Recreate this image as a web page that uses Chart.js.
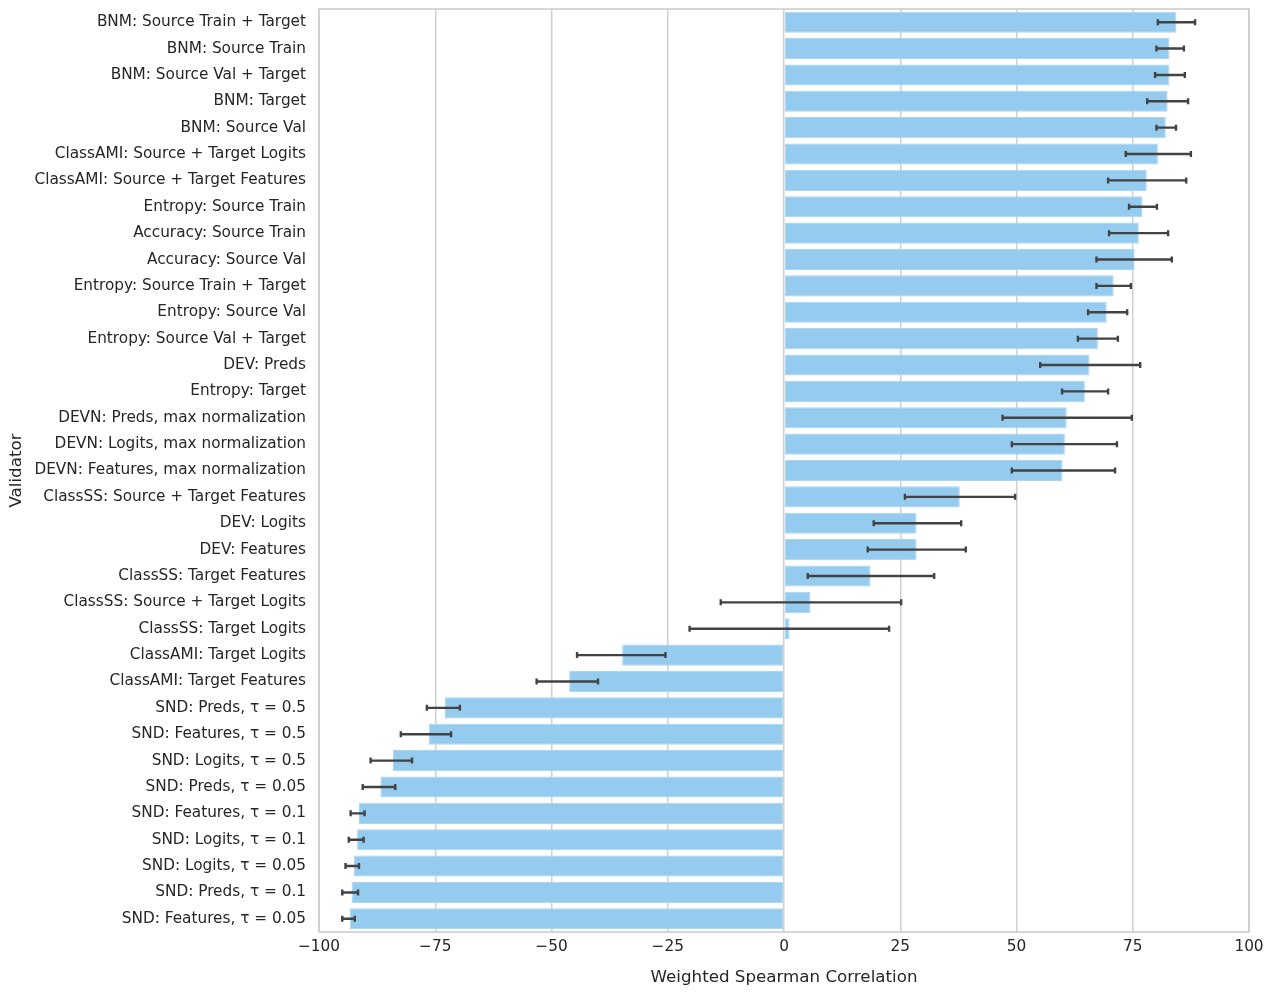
<!DOCTYPE html>
<html>
<head>
<meta charset="utf-8">
<script src="https://cdn.jsdelivr.net/npm/chart.js@4/dist/chart.umd.min.js"></script>
<style>
  html, body { margin: 0; padding: 0; background: #fff; }
  canvas { display: block; }
</style>
</head>
<body>
<canvas id="chart" width="1273" height="995" style="width:1273px;height:995px"></canvas>
<script>
const validators = [
  "BNM: Source Train + Target",
  "BNM: Source Train",
  "BNM: Source Val + Target",
  "BNM: Target",
  "BNM: Source Val",
  "ClassAMI: Source + Target Logits",
  "ClassAMI: Source + Target Features",
  "Entropy: Source Train",
  "Accuracy: Source Train",
  "Accuracy: Source Val",
  "Entropy: Source Train + Target",
  "Entropy: Source Val",
  "Entropy: Source Val + Target",
  "DEV: Preds",
  "Entropy: Target",
  "DEVN: Preds, max normalization",
  "DEVN: Logits, max normalization",
  "DEVN: Features, max normalization",
  "ClassSS: Source + Target Features",
  "DEV: Logits",
  "DEV: Features",
  "ClassSS: Target Features",
  "ClassSS: Source + Target Logits",
  "ClassSS: Target Logits",
  "ClassAMI: Target Logits",
  "ClassAMI: Target Features",
  "SND: Preds, τ = 0.5",
  "SND: Features, τ = 0.5",
  "SND: Logits, τ = 0.5",
  "SND: Preds, τ = 0.05",
  "SND: Features, τ = 0.1",
  "SND: Logits, τ = 0.1",
  "SND: Logits, τ = 0.05",
  "SND: Preds, τ = 0.1",
  "SND: Features, τ = 0.05",
];

const correlation = [
  84.4, 82.9, 82.9, 82.5, 82.1, 80.4, 78.0, 77.1, 76.3, 75.4,
  70.9, 69.4, 67.5, 65.7, 64.7, 60.8, 60.4, 59.9, 37.8, 28.5,
  28.5, 18.6, 5.7, 1.2, -34.8, -46.2, -72.9, -76.4, -84.1, -86.8,
  -91.4, -91.8, -92.5, -93.0, -93.4,
];

const errLow = [
  80.4, 80.1, 79.8, 78.1, 80.1, 73.5, 69.7, 74.2, 69.9, 67.2,
  67.2, 65.4, 63.2, 55.1, 59.8, 47.0, 49.0, 49.0, 26.0, 19.3,
  18.0, 5.1, -13.6, -20.3, -44.5, -53.2, -76.8, -82.4, -88.9, -90.6,
  -93.2, -93.6, -94.3, -95.0, -95.0,
];

const errHigh = [
  88.4, 86.0, 86.2, 86.9, 84.3, 87.5, 86.5, 80.2, 82.6, 83.4,
  74.6, 73.8, 71.8, 76.6, 69.7, 74.8, 71.6, 71.2, 49.7, 38.1,
  39.1, 32.3, 25.2, 22.6, -25.5, -40.0, -69.7, -71.6, -80.0, -83.6,
  -90.2, -90.4, -91.4, -91.6, -92.3,
];

const xTicks = [-100, -75, -50, -25, 0, 25, 50, 75, 100];

const FONT = "'DejaVu Sans', sans-serif";
const TEXT = "#262626";

// error bars drawn through the chart's own scales
const errorBars = {
  id: "errorBars",
  afterDatasetsDraw(chart) {
    const { ctx, scales: { x, y } } = chart;
    ctx.save();
    ctx.strokeStyle = "#424242";
    ctx.lineWidth = 2.4;
    ctx.lineCap = "butt";
    validators.forEach((_, i) => {
      const py = y.getPixelForValue(i);
      const x1 = x.getPixelForValue(errLow[i]);
      const x2 = x.getPixelForValue(errHigh[i]);
      ctx.beginPath();
      ctx.moveTo(x1, py);
      ctx.lineTo(x2, py);
      ctx.moveTo(x1, py - 3);
      ctx.lineTo(x1, py + 3);
      ctx.moveTo(x2, py - 3);
      ctx.lineTo(x2, py + 3);
      ctx.stroke();
    });
    ctx.restore();
  },
};

const frame = {
  id: "frame",
  afterDraw(chart) {
    const { ctx, chartArea: a } = chart;
    ctx.save();
    ctx.strokeStyle = "#cccccc";
    ctx.lineWidth = 1.6;
    ctx.strokeRect(a.left, a.top, a.right - a.left, a.bottom - a.top);
    ctx.restore();
  },
};

new Chart(document.getElementById("chart"), {
  type: "bar",
  data: {
    labels: validators,
    datasets: [
      {
        data: correlation,
        backgroundColor: "#95cbee",
        borderColor: "#a9d6f3",
        borderWidth: 1,
        borderSkipped: false,
        barPercentage: 0.8,
        categoryPercentage: 1,
      },
    ],
  },
  options: {
    indexAxis: "y",
    responsive: false,
    animation: false,
    devicePixelRatio: 1,
    layout: { padding: { top: 9, right: 24, bottom: 0, left: 0 } },
    plugins: { legend: { display: false }, tooltip: { enabled: false } },
    scales: {
      x: {
        type: "linear",
        min: -100,
        max: 100,
        afterBuildTicks: (axis) => { axis.ticks = xTicks.map((v) => ({ value: v })); },
        afterFit: (axis) => { axis.height = 63; },
        grid: { color: "#d0d0d0", lineWidth: 1.5, drawTicks: false },
        border: { display: false },
        ticks: {
          color: TEXT,
          font: { family: FONT, size: 15.3 },
          padding: 6,
          callback: (v) => String(v).replace("-", "\u2212"),
        },
        title: {
          display: true,
          text: "Weighted Spearman Correlation",
          color: TEXT,
          font: { family: FONT, size: 16.7 },
          padding: { top: 2, bottom: 7 },
        },
      },
      y: {
        afterFit: (axis) => {
          axis.width = 319;
          axis.paddingTop = 0;
          axis.paddingBottom = 0;
        },
        grid: { display: false, drawTicks: false },
        border: { display: false },
        ticks: {
          color: TEXT,
          font: { family: FONT, size: 15.3 },
          padding: 13,
          autoSkip: false,
        },
        title: {
          display: true,
          text: "Validator",
          color: TEXT,
          font: { family: FONT, size: 16.7 },
          padding: { top: 7, bottom: 0 },
        },
      },
    },
  },
  plugins: [errorBars, frame],
});
</script>
</body>
</html>
